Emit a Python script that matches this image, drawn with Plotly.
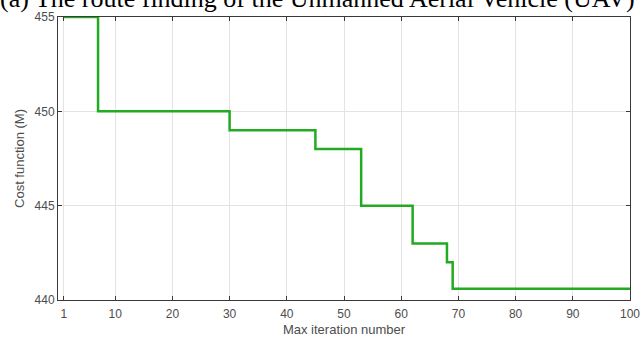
import plotly.graph_objects as go

iterations = [1, 7, 30, 45, 53, 62, 68, 69, 100]
cost = [455, 450, 449, 448, 445, 443, 442, 440.6, 440.6]
x_ticks = [1, 10, 20, 30, 40, 50, 60, 70, 80, 90, 100]
y_ticks = [440, 445, 450, 455]

fig = go.Figure()
fig.add_trace(go.Scatter(x=iterations, y=cost, mode="lines", line_shape="hv",
                         line=dict(color="#22aa22", width=2.5), showlegend=False,
                         cliponaxis=False))

tick_font = dict(family="Liberation Sans, Arial", size=12, color="#4d4d4d")
title_font = dict(family="Liberation Sans, Arial", size=13, color="#4d4d4d")
axis_common = dict(showline=True, linecolor="#3a3a3a", linewidth=1, mirror="ticks",
                   ticks="inside", ticklen=4, tickcolor="#3a3a3a",
                   showgrid=True, gridcolor="#e3e3e3", gridwidth=1, zeroline=False,
                   tickfont=tick_font, automargin=False)

fig.update_layout(
    width=643, height=337,
    margin=dict(l=58, r=13, t=17, b=37),
    plot_bgcolor="white", paper_bgcolor="white",
    xaxis=dict(range=[0, 100], tickvals=x_ticks, ticklabelstandoff=3,
               title=dict(text="Max iteration number", standoff=6, font=title_font),
               **axis_common),
    yaxis=dict(range=[440, 455], tickvals=y_ticks,
               title=dict(text="Cost function (M)", standoff=7, font=title_font),
               **axis_common),
)
fig.add_annotation(text="(a) The route finding of the Unmanned Aerial Vehicle (UAV)",
                   xref="paper", yref="paper", x=-60/572, y=1, xanchor="left", yanchor="bottom",
                   yshift=2, showarrow=False,
                   font=dict(family="Liberation Serif, Times New Roman", size=26, color="black"))

fig.write_html("out.html", config={"displayModeBar": False},
               post_script="document.body.style.margin='0';")
